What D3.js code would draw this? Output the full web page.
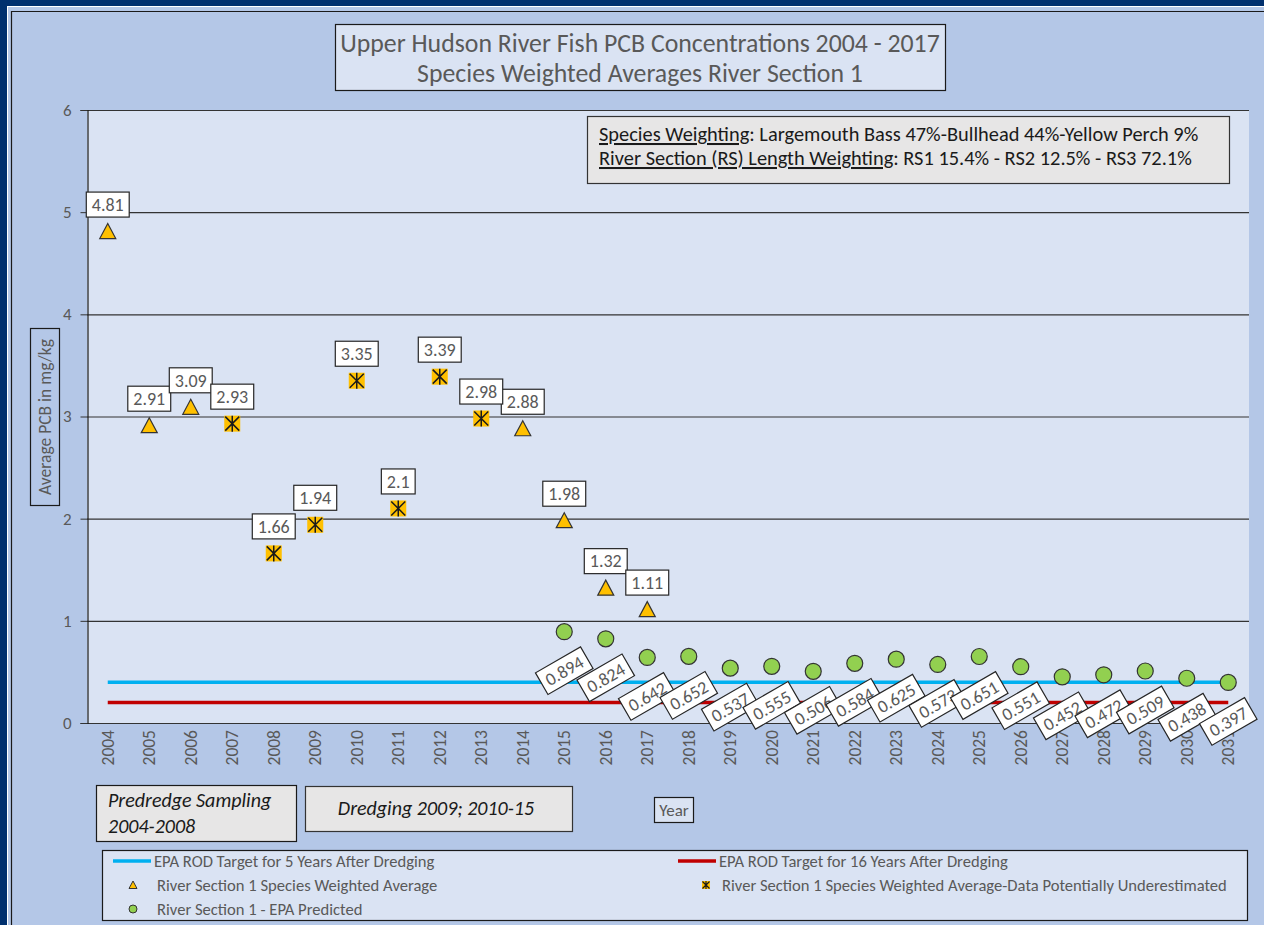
<!DOCTYPE html>
<html>
<head>
<meta charset="utf-8">
<script src="https://cdn.jsdelivr.net/npm/d3@7"></script>
<style>
  html, body { margin: 0; padding: 0; background: #00306e; }
  svg { display: block; font-family: Carlito, Lato, sans-serif; }
</style>
</head>
<body>
<svg width="1264" height="925"></svg>
<script>
// categories on the x axis
const years = ["2004","2005","2006","2007","2008","2009","2010","2011","2012","2013",
               "2014","2015","2016","2017","2018","2019","2020","2021","2022","2023",
               "2024","2025","2026","2027","2028","2029","2030","2031"];

// River Section 1 species weighted average (triangles)
const avgYears  = ["2004","2005","2006","2014","2015","2016","2017"];
const avgValues = [4.81, 2.91, 3.09, 2.88, 1.98, 1.32, 1.11];

// data potentially underestimated (star markers)
const underYears  = ["2007","2008","2009","2010","2011","2012","2013"];
const underValues = [2.93, 1.66, 1.94, 3.35, 2.1, 3.39, 2.98];

// EPA predicted (circles)
const predYears  = ["2015","2016","2017","2018","2019","2020","2021","2022","2023",
                    "2024","2025","2026","2027","2028","2029","2030","2031"];
const predValues = [0.894, 0.824, 0.642, 0.652, 0.537, 0.555, 0.506, 0.584, 0.625,
                    0.573, 0.651, 0.551, 0.452, 0.472, 0.509, 0.438, 0.397];

// EPA ROD targets
const target5Years  = 0.4;
const target16Years = 0.2;

const yTicks = [0, 1, 2, 3, 4, 5, 6];

const svg = d3.select("svg");

// outer frame
svg.append("rect").attr("width", 1264).attr("height", 925).attr("fill", "#00306e");
svg.append("rect").attr("x", 7).attr("y", 6).attr("width", 1257).attr("height", 919).attr("fill", "#ffffff");
svg.append("rect").attr("x", 8).attr("y", 7).attr("width", 1256).attr("height", 918).attr("fill", "#b4c7e7");
svg.append("path").attr("d", "M11.5,925V11.5H1264").attr("fill", "none").attr("stroke", "#1a1a1a").attr("stroke-width", 1.2);

const plot = { left: 87, right: 1249, top: 110, bottom: 723 };

const x = d3.scalePoint().domain(years).range([plot.left, plot.right]).padding(0.5);
const y = d3.scaleLinear().domain([0, 6]).range([plot.bottom, plot.top]);

// plot area
svg.append("rect")
  .attr("x", plot.left).attr("y", plot.top)
  .attr("width", plot.right - plot.left).attr("height", plot.bottom - plot.top)
  .attr("fill", "#dae3f3");

// gridlines
svg.append("g").selectAll("line").data(yTicks).join("line")
  .attr("x1", plot.left).attr("x2", plot.right)
  .attr("y1", d => y(d) + 0.5).attr("y2", d => y(d) + 0.5)
  .attr("stroke", "#333").attr("stroke-width", 1.2);

// y axis
const yAxis = svg.append("g")
  .attr("transform", `translate(${plot.left + 0.5},0)`)
  .call(d3.axisLeft(y).tickValues(yTicks).tickSize(7).tickPadding(9).tickFormat(d3.format("d")));
yAxis.select(".domain").attr("stroke", "#1a1a1a").attr("stroke-width", 1.2);
yAxis.selectAll(".tick line").attr("stroke", "#333");
yAxis.selectAll(".tick text").attr("fill", "#595959").attr("font-size", 17).attr("font-family", "Carlito, Lato, sans-serif");

// x labels
svg.append("g").selectAll("text").data(years).join("text")
  .attr("transform", d => `translate(${x(d)},${plot.bottom + 7}) rotate(-90)`)
  .attr("text-anchor", "end")
  .attr("dy", "0.35em")
  .attr("fill", "#595959")
  .attr("font-size", 17.5)
  .text(d => d);

// target lines
svg.append("line")
  .attr("x1", x("2004")).attr("x2", x("2031"))
  .attr("y1", y(target5Years)).attr("y2", y(target5Years))
  .attr("stroke", "#00b0f0").attr("stroke-width", 3.5);
svg.append("line")
  .attr("x1", x("2004")).attr("x2", x("2031"))
  .attr("y1", y(target16Years)).attr("y2", y(target16Years))
  .attr("stroke", "#c00000").attr("stroke-width", 3.5);

// markers
const triPath = "M0,-8L8,7L-8,7Z";
function drawStar(g) {
  g.append("rect").attr("x", -8).attr("y", -8).attr("width", 16).attr("height", 16).attr("fill", "#ffc000");
  g.append("path").attr("d", "M-7,-7L7,7M-7,7L7,-7M0,-8V8")
    .attr("stroke", "#1a1a1a").attr("stroke-width", 1.5);
}

const avgData   = avgYears.map((d, i) => ({ year: d, value: avgValues[i] }));
const underData = underYears.map((d, i) => ({ year: d, value: underValues[i] }));
const predData  = predYears.map((d, i) => ({ year: d, value: predValues[i] }));

svg.append("g").selectAll("path").data(avgData).join("path")
  .attr("d", triPath)
  .attr("transform", d => `translate(${x(d.year)},${y(d.value)})`)
  .attr("fill", "#ffc000").attr("stroke", "#333").attr("stroke-width", 1.2);

svg.append("g").selectAll("g").data(underData).join("g")
  .attr("transform", d => `translate(${x(d.year)},${y(d.value)})`)
  .each(function () { drawStar(d3.select(this)); });

svg.append("g").selectAll("circle").data(predData).join("circle")
  .attr("cx", d => x(d.year)).attr("cy", d => y(d.value)).attr("r", 8)
  .attr("fill", "#92d050").attr("stroke", "#333").attr("stroke-width", 1.2);

// data labels
function label(g, text, fs) {
  const t = g.append("text")
    .attr("text-anchor", "middle").attr("dy", "0.35em")
    .attr("fill", "#595959").attr("font-size", fs).text(text);
  const w = t.node().getComputedTextLength() + 11;
  g.insert("rect", "text")
    .attr("x", -w / 2).attr("y", -12.5).attr("width", w).attr("height", 25)
    .attr("fill", "#fff").attr("stroke", "#262626").attr("stroke-width", 1.2);
}

svg.append("g").selectAll("g").data(avgData.concat(underData)).join("g")
  .attr("transform", d => `translate(${x(d.year)},${y(d.value) - 27})`)
  .each(function (d) { label(d3.select(this), String(d.value), 18); });

svg.append("g").selectAll("g").data(predData).join("g")
  .attr("transform", d => `translate(${x(d.year)},${y(d.value) + 39}) rotate(-30)`)
  .each(function (d) { label(d3.select(this), String(d.value), 18); });

// title box
svg.append("rect").attr("x", 335.5).attr("y", 24.5).attr("width", 610).attr("height", 66)
  .attr("fill", "#dae3f3").attr("stroke", "#1a1a1a").attr("stroke-width", 1.2);
svg.append("text").attr("x", 640).attr("y", 52).attr("text-anchor", "middle")
  .attr("fill", "#595959").attr("font-size", 25.8)
  .text("Upper Hudson River Fish PCB Concentrations 2004 - 2017");
svg.append("text").attr("x", 640).attr("y", 82).attr("text-anchor", "middle")
  .attr("fill", "#595959").attr("font-size", 25.8)
  .text("Species Weighted Averages River Section 1");

// info box
svg.append("rect").attr("x", 587.5).attr("y", 116.5).attr("width", 642).attr("height", 67)
  .attr("fill", "#e7e6e6").attr("stroke", "#333").attr("stroke-width", 1.2);
const info1 = svg.append("text").attr("x", 599).attr("y", 141).attr("fill", "#1a1a1a").attr("font-size", 20.4);
info1.append("tspan").attr("text-decoration", "underline").text("Species Weighting");
info1.append("tspan").text(": Largemouth Bass 47%-Bullhead 44%-Yellow Perch 9%");
const info2 = svg.append("text").attr("x", 599).attr("y", 165).attr("fill", "#1a1a1a").attr("font-size", 20.4);
info2.append("tspan").attr("text-decoration", "underline").text("River Section (RS) Length Weighting");
info2.append("tspan").text(": RS1 15.4% - RS2 12.5% - RS3 72.1%");

// y axis title box
svg.append("rect").attr("x", 30.5).attr("y", 328.5).attr("width", 29).attr("height", 177)
  .attr("fill", "none").attr("stroke", "#1a1a1a").attr("stroke-width", 1.2);
svg.append("text").attr("transform", "translate(45,417) rotate(-90)")
  .attr("text-anchor", "middle").attr("dy", "0.35em")
  .attr("fill", "#595959").attr("font-size", 17.5)
  .text("Average PCB in mg/kg");

// annotation boxes
svg.append("rect").attr("x", 96.5).attr("y", 785.5).attr("width", 200).attr("height", 56)
  .attr("fill", "#e7e6e6").attr("stroke", "#1a1a1a").attr("stroke-width", 1.2);
svg.append("text").attr("x", 108).attr("y", 807).attr("font-style", "italic")
  .attr("fill", "#1a1a1a").attr("font-size", 20).text("Predredge Sampling");
svg.append("text").attr("x", 108).attr("y", 833).attr("font-style", "italic")
  .attr("fill", "#1a1a1a").attr("font-size", 20).text("2004-2008");

svg.append("rect").attr("x", 305.5).attr("y", 786.5).attr("width", 267).attr("height", 45)
  .attr("fill", "#e7e6e6").attr("stroke", "#333").attr("stroke-width", 1.2);
svg.append("text").attr("x", 436).attr("y", 808).attr("text-anchor", "middle").attr("dy", "0.35em")
  .attr("font-style", "italic").attr("fill", "#1a1a1a").attr("font-size", 20)
  .text("Dredging 2009; 2010-15");

svg.append("rect").attr("x", 654.5).attr("y", 797.5).attr("width", 39).attr("height", 25)
  .attr("fill", "#dae3f3").attr("stroke", "#1a1a1a").attr("stroke-width", 1.2);
svg.append("text").attr("x", 674).attr("y", 810).attr("text-anchor", "middle").attr("dy", "0.35em")
  .attr("fill", "#595959").attr("font-size", 17).text("Year");

// legend
svg.append("rect").attr("x", 102.5).attr("y", 850.5).attr("width", 1145).attr("height", 70)
  .attr("fill", "#dae3f3").attr("stroke", "#1a1a1a").attr("stroke-width", 1.2);

const legendItems = [
  { kind: "line", color: "#00b0f0", text: "EPA ROD Target for 5 Years After Dredging", col: 0, row: 0 },
  { kind: "line", color: "#c00000", text: "EPA ROD Target for 16 Years After Dredging", col: 1, row: 0 },
  { kind: "tri", text: "River Section 1 Species Weighted Average", col: 0, row: 1 },
  { kind: "star", text: "River Section 1 Species Weighted Average-Data Potentially Underestimated", col: 1, row: 1 },
  { kind: "circle", text: "River Section 1 - EPA Predicted", col: 0, row: 2 }
];
const legendCols = [113, 678];
const legendRows = [861, 885, 909];

legendItems.forEach(item => {
  const g = svg.append("g")
    .attr("transform", `translate(${legendCols[item.col]},${legendRows[item.row]})`);
  if (item.kind === "line") {
    g.append("line").attr("x1", 0).attr("x2", 38).attr("stroke", item.color).attr("stroke-width", 3.5);
  } else if (item.kind === "tri") {
    g.append("path").attr("d", "M0,-4L4,3.5L-4,3.5Z").attr("transform", "translate(20,0)")
      .attr("fill", "#ffc000").attr("stroke", "#333").attr("stroke-width", 1);
  } else if (item.kind === "star") {
    const s = g.append("g").attr("transform", "translate(28,0)");
    s.append("rect").attr("x", -4).attr("y", -4).attr("width", 8).attr("height", 8).attr("fill", "#ffc000");
    s.append("path").attr("d", "M-3.5,-3.5L3.5,3.5M-3.5,3.5L3.5,-3.5M0,-4V4")
      .attr("stroke", "#1a1a1a").attr("stroke-width", 1.2);
  } else {
    g.append("circle").attr("cx", 20).attr("r", 4)
      .attr("fill", "#92d050").attr("stroke", "#333").attr("stroke-width", 1);
  }
  g.append("text")
    .attr("x", item.kind === "line" ? 41 : 44)
    .attr("dy", "0.35em")
    .attr("fill", "#595959").attr("font-size", 16.6)
    .text(item.text);
});
</script>
</body>
</html>
